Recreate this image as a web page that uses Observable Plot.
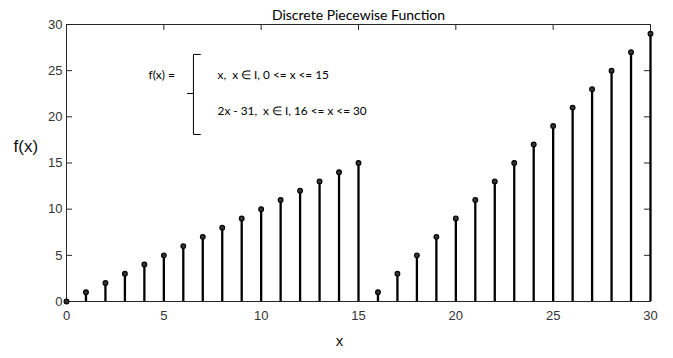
<!DOCTYPE html>
<html>
<head>
<meta charset="utf-8">
<script src="https://cdn.jsdelivr.net/npm/d3@7"></script>
<script src="https://cdn.jsdelivr.net/npm/@observablehq/plot@0.6"></script>
<style>
  html, body { margin: 0; padding: 0; background: #fff; }
  #chart svg { display: block; }
</style>
</head>
<body>
<div id="chart"></div>
<script>
// ---- data ----
const xs = [0,1,2,3,4,5,6,7,8,9,10,11,12,13,14,15,16,17,18,19,20,21,22,23,24,25,26,27,28,29,30];
const ys = [0,1,2,3,4,5,6,7,8,9,10,11,12,13,14,15,1,3,5,7,9,11,13,15,17,19,21,23,25,27,29];
const xTicks = [0,5,10,15,20,25,30];
const yTicks = [0,5,10,15,20,25,30];
const titleText = "Discrete Piecewise Function";
const xLabel = "x";
const yLabel = "f(x)";
const lhsText = "f(x) =";
const caseTexts = ["x,  x \u2208 I, 0 <= x <= 15", "2x - 31,  x \u2208 I, 16 <= x <= 30"];
// annotation anchors (data units)
const lhsPos = [4.21, 24.5];
const casePosX = 7.76;
const casePosY = [24.5, 20.6];
const braceX = [6.52, 6.88, 6.21];   // spine, hook end, tip
const braceY = [26.76, 22.53, 18.09]; // top, middle, bottom

const data = xs.map((x, i) => ({x, y: ys[i]}));
const brace = [
  {x: braceX[1], y: braceY[0], z: "a"},
  {x: braceX[0], y: braceY[0], z: "a"},
  {x: braceX[0], y: braceY[2], z: "a"},
  {x: braceX[1], y: braceY[2], z: "a"},
  {x: braceX[2], y: braceY[1], z: "b"},
  {x: braceX[0], y: braceY[1], z: "b"}
];
const cases = caseTexts.map((t, i) => ({t, x: casePosX, y: casePosY[i]}));

const W = 673, H = 358;
const mL = 66, mR = 23, mT = 24, mB = 57;
const pw = W - mL - mR, ph = H - mT - mB;
const tk = 6;
const axisColor = "#262626";
const sansFont = "Arial, 'Liberation Sans', sans-serif";
const textFont = "Lato, 'Open Sans', sans-serif";

const chart = Plot.plot({
  width: W,
  height: H,
  marginLeft: mL,
  marginRight: mR,
  marginTop: mT,
  marginBottom: mB,
  style: {fontFamily: sansFont, background: "#fff"},
  x: {domain: [0, 30], ticks: xTicks},
  y: {domain: [0, 30], ticks: yTicks},
  marks: [
    // tick labels
    Plot.axisX(xTicks, {tickSize: 0, tickPadding: 9, fontSize: 13, fontFamily: sansFont, fill: "#333", label: null}),
    Plot.axisY(yTicks, {tickSize: 0, tickPadding: 4, fontSize: 13, fontFamily: sansFont, fill: "#333", label: null}),
    // inward ticks on all four sides
    Plot.ruleX(xTicks, {x: d => d, insetTop: ph - tk, stroke: axisColor}),
    Plot.ruleX(xTicks, {x: d => d, insetBottom: ph - tk, stroke: axisColor}),
    Plot.ruleY(yTicks, {y: d => d, insetRight: pw - tk, stroke: axisColor}),
    Plot.ruleY(yTicks, {y: d => d, insetLeft: pw - tk, stroke: axisColor}),
    Plot.frame({stroke: axisColor, strokeWidth: 1}),
    // stems
    Plot.ruleX(data, {x: "x", y1: 0, y2: "y", stroke: "#000", strokeWidth: 2.3}),
    Plot.dot(data, {x: "x", y: "y", r: 2.4, fill: "#333", stroke: "#000", strokeWidth: 1.1}),
    // annotation
    Plot.line(brace, {x: "x", y: "y", z: "z", stroke: "#000", strokeWidth: 1, curve: "linear"}),
    Plot.text([lhsText], {x: lhsPos[0], y: lhsPos[1], text: d => d, textAnchor: "start", fontSize: 12, fontFamily: textFont, fill: "#000"}),
    Plot.text(cases, {x: "x", y: "y", text: "t", textAnchor: "start", fontSize: 11.8, fontFamily: textFont, fill: "#000"}),
    // title and labels
    Plot.text([titleText], {frameAnchor: "top", lineAnchor: "bottom", dy: -5, text: d => d, fontSize: 14, fontFamily: textFont, fill: "#000"}),
    Plot.text([xLabel], {frameAnchor: "bottom", lineAnchor: "middle", dx: -19, dy: 40, text: d => d, fontSize: 15, fontFamily: sansFont, fill: "#111"}),
    Plot.text([yLabel], {frameAnchor: "left", textAnchor: "start", lineAnchor: "middle", dx: -53, dy: -16, text: d => d, fontSize: 17, fontFamily: sansFont, fill: "#111"})
  ]
});
document.getElementById("chart").appendChild(chart);
</script>
</body>
</html>
